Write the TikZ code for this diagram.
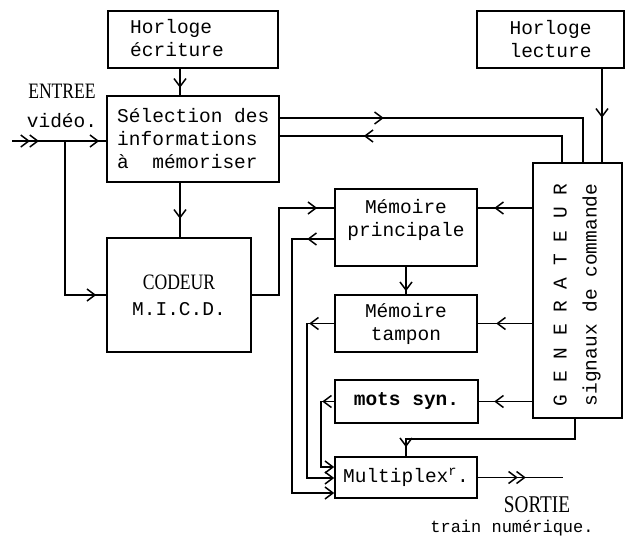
\documentclass[tikz,border=0pt]{standalone}
\usepackage{fontspec}
\setmainfont{Liberation Serif}
\newfontfamily\mnfont{Liberation Mono}
\newfontfamily\tmsfont[FakeStretch=0.8]{Liberation Serif}
\usetikzlibrary{arrows.meta,decorations.markings}
\tikzset{
  box/.style={draw, line width=1.6pt, inner sep=0pt, align=center, font={\mnfont\fontsize{19.5}{23}\selectfont}},
  lbl/.style={inner sep=0pt, font={\mnfont\fontsize{19.5}{23}\selectfont}},
  conn/.style={line width=1.5pt},
  marr/.style={postaction={decorate, decoration={markings, mark=at position #1 with {\arrow[line width=1.5pt]{Straight Barb[length=8pt,width=12pt]}}}}},
  endarr/.style={-{Straight Barb[length=8pt,width=12pt]}},
}
\begin{document}
\begin{tikzpicture}[x=1pt,y=-1pt]
\useasboundingbox (0,0) rectangle (634,539);
% boxes
\node[box, minimum width=170pt, minimum height=57pt] (hecr) at (193,39.5) {};
\node[lbl, align=left, anchor=west] (hecrt) at (130,38.5) {Horloge\\écriture};
\node[box, minimum width=172pt, minimum height=86pt] (sel) at (193,139) {};
\node[lbl, align=left, anchor=west] (selt) at (117,139) {Sélection des\\informations\\à\ \ mémoriser};
\node[box, minimum width=147pt, minimum height=57pt] (hlec) at (550.5,39.5) {Horloge\\lecture};
\node[box, minimum width=89pt, minimum height=255pt] (gen) at (577.5,290.5) {};
\node[lbl, rotate=90, align=center, font={\mnfont\fontsize{19.5}{30}\selectfont}] (gent) at (577,295) {G E N E R A T E U R\\signaux de commande};
\node[box, minimum width=144pt, minimum height=114pt, font={\mnfont\fontsize{19.5}{26}\selectfont}] (codeur) at (179,295) {{\tmsfont\fontsize{22}{26}\selectfont CODEUR}\\M.I.C.D.};
\node[box, minimum width=142pt, minimum height=77pt] (mprinc) at (406,227.5) {};
\node[lbl, align=center] (mprinct) at (406,220) {Mémoire\\principale};
\node[box, minimum width=142pt, minimum height=57pt] (mtamp) at (406,323.5) {Mémoire\\tampon};
\node[box, minimum width=143pt, minimum height=43pt] (mots) at (406.5,401.5) {\bfseries mots syn.};
\node[box, minimum width=142pt, minimum height=41pt] (mux) at (406,477.5) {Multiplex\textsuperscript{r}.};
\node[lbl, align=center, font={\mnfont\fontsize{19.5}{29}\selectfont}] (entree) at (62,106) {{\tmsfont\fontsize{22}{29}\selectfont ENTREE}\\vidéo.};
\node[lbl, font={\tmsfont\fontsize{24}{26}\selectfont}] (sortie) at (537,505) {SORTIE};
\node[lbl, font={\mnfont\fontsize{17}{20}\selectfont}] (train) at (512,528) {train numérique.};
% connectors
\coordinate (pin) at (12,141);
\coordinate (pbr) at (65,141);
\draw[conn, marr=18pt, marr=27pt, marr=-7pt] (pin) -- (pin -| sel.west);
\draw[conn, marr=-10pt] (pbr) |- (codeur.west);
\coordinate (xa) at (180,0);
\draw[conn, marr=19pt] (hecr.south -| xa) -- (sel.north -| xa);
\draw[conn, marr=36pt] (sel.south -| xa) -- (codeur.north -| xa);
\coordinate (ya) at (0,118);
\coordinate (yb) at (0,136);
\coordinate (xg1) at (583,0);
\coordinate (xg2) at (562,0);
\draw[conn, marr=104pt] (sel.east |- ya) -| (gen.north -| xg1);
\draw[conn, marr=-84pt] (gen.north -| xg2) |- (sel.east |- yb);
\coordinate (xl) at (602,0);
\draw[conn, marr=49pt] (hlec.south -| xl) -- (gen.north -| xl);
\coordinate (yc) at (0,208);
\draw[conn, marr=-17pt] (codeur.east) -- ++(27,0) |- (mprinc.west |- yc);
\draw[conn, marr=38pt] (gen.west |- yc) -- (mprinc.east |- yc);
\coordinate (yd) at (0,239);
\coordinate (ye) at (0,493);
\draw[conn, marr=27pt, endarr] (mprinc.west |- yd) -- ++(-42,0) |- (mux.west |- ye);
\draw[conn, marr=-3pt] (mprinc.south) -- (mtamp.north);
\draw[conn, marr=36pt] (gen.west |- mtamp.east) -- (mtamp.east);
\coordinate (yf) at (0,478);
\draw[conn, marr=25pt, endarr] (mtamp.west) -- ++(-27,0) |- (mux.west |- yf);
\draw[conn, marr=38pt] (gen.west |- mots.east) -- (mots.east);
\coordinate (yg) at (0,467);
\draw[conn, marr=12pt, endarr] (mots.west) -- ++(-13,0) |- (mux.west |- yg);
\coordinate (xh) at (575,0);
\draw[conn, marr=-9pt] (gen.south -| xh) -- ++(0,20) -| (mux.north);
\coordinate (pout) at (563,477.5);
\draw[conn, marr=40pt, marr=48pt] (mux.east) -- (pout);
\end{tikzpicture}
\end{document}
